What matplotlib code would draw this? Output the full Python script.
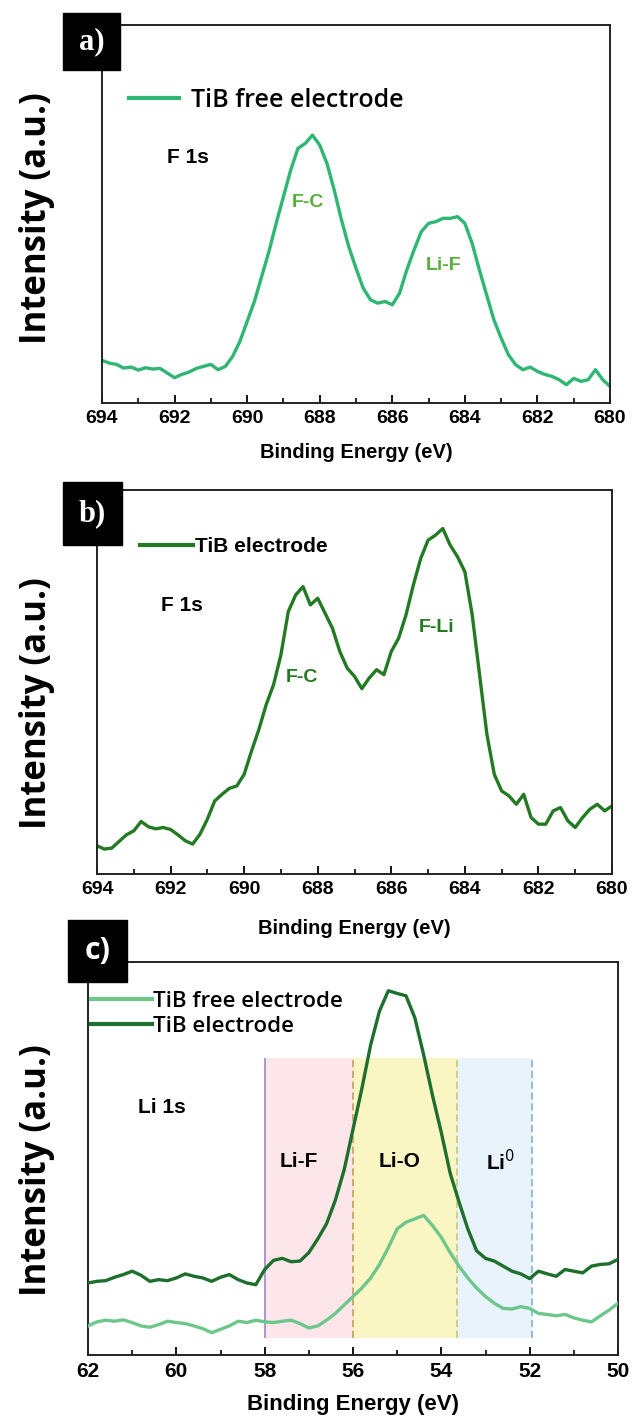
import numpy as np
import matplotlib
matplotlib.use("Agg")
import matplotlib.pyplot as plt
from matplotlib.patches import Rectangle
from matplotlib.ticker import MultipleLocator

# ---------------- data ----------------
# F 1s spectra, binding energy 694 -> 680 eV in 0.2 eV steps
f1s_energy = [694.0 - 0.2 * i for i in range(71)]

f1s_tib_free = [
    12.8, 12.0, 11.6, 10.5, 10.8, 9.9, 10.6, 10.2, 10.4, 9.0,
    7.6, 8.6, 9.3, 10.4, 11.0, 11.6, 10.0, 11.0, 14.0, 18.5,
    24.5, 30.5, 38.0, 45.5, 54.0, 62.0, 70.0, 76.5, 78.0, 80.5,
    77.5, 72.0, 64.0, 55.0, 47.0, 40.5, 34.5, 31.0, 30.0, 30.5,
    29.5, 33.0, 40.0, 46.0, 51.5, 54.0, 54.5, 55.5, 55.5, 56.0,
    54.0, 48.0, 40.0, 32.5, 25.0, 19.5, 14.5, 11.5, 10.0, 10.8,
    9.5, 8.6, 8.0, 7.0, 5.5, 7.4, 6.5, 7.0, 10.0, 7.0,
    5.0,
]

f1s_tib = [
    8.5, 7.5, 7.8, 9.8, 11.8, 13.0, 15.8, 14.2, 13.6, 14.0,
    13.4, 11.8, 10.0, 9.0, 12.0, 16.5, 22.0, 24.0, 25.8, 26.5,
    30.0, 37.0, 43.5, 51.0, 57.0, 66.0, 79.0, 84.0, 86.5, 81.0,
    83.0, 78.5, 74.0, 67.0, 62.0, 59.5, 55.8, 59.0, 61.5, 60.0,
    67.0, 71.0, 78.0, 87.0, 95.0, 100.5, 102.0, 104.0, 99.0, 95.5,
    91.0, 78.0, 60.0, 42.0, 30.0, 25.0, 23.5, 21.0, 24.0, 17.0,
    15.0, 15.0, 19.0, 20.0, 16.0, 14.0, 17.0, 19.5, 21.0, 19.0,
    20.5,
]

# Li 1s spectra, binding energy 62 -> 50 eV in 0.2 eV steps
li1s_energy = [62.0 - 0.2 * i for i in range(61)]

li1s_tib_free = [
    8.6, 9.8, 10.3, 10.0, 10.4, 9.6, 8.6, 8.2, 9.0, 10.0,
    9.6, 9.3, 8.6, 7.8, 6.6, 7.6, 8.6, 10.0, 9.6, 10.3,
    9.8, 9.6, 10.0, 10.3, 9.3, 8.0, 8.6, 10.3, 12.3, 14.8,
    17.3, 19.8, 22.8, 26.8, 31.8, 37.3, 39.3, 40.3, 41.3, 38.3,
    34.8, 30.3, 26.3, 22.8, 19.8, 17.3, 15.3, 13.8, 13.6, 14.3,
    13.8, 12.3, 12.0, 11.6, 12.0, 11.0, 10.3, 9.8, 11.6, 13.3,
    15.3,
]

li1s_tib = [
    21.3, 21.8, 22.0, 23.0, 23.8, 24.8, 23.6, 21.8, 22.3, 22.0,
    22.8, 24.0, 23.3, 22.8, 21.8, 23.0, 23.8, 22.3, 21.3, 20.8,
    25.3, 28.0, 28.6, 27.6, 27.8, 30.3, 34.3, 38.8, 45.8, 54.8,
    66.8, 78.8, 91.8, 101.8, 107.8, 107.0, 106.3, 99.8, 88.8, 76.8,
    65.8, 53.8, 45.3, 37.3, 30.8, 28.6, 27.8, 26.3, 24.8, 24.0,
    22.6, 24.8, 24.0, 23.3, 25.3, 24.8, 24.3, 26.3, 26.8, 27.0,
    28.3,
]

# Li 1s component regions (eV): Li-F, Li-O, Li0
li_regions = [(58.0, 56.0), (56.0, 53.65), (53.65, 51.95)]
li_region_labels = ["Li-F", "Li-O", "Li$^{0}$"]

# ---------------- styling ----------------
W, H = 633, 1428
fig = plt.figure(figsize=(W / 100, H / 100), dpi=100)

C_FREE_A = "#2fb574"
C_TIB_B = "#237a23"
C_TIB_C = "#1e6e2e"
C_FREE_C = "#6ec78a"
PEAK_A = "#58b03c"
SANS = "Liberation Sans"


def ax_rect(left, top, right, bottom):
    return [left / W, 1 - bottom / H, (right - left) / W, (bottom - top) / H]


def style_axes(ax, xmin, xmax, ticksize):
    ax.set_xlim(xmin, xmax)
    ax.xaxis.set_major_locator(MultipleLocator(2))
    ax.xaxis.set_minor_locator(MultipleLocator(1))
    ax.tick_params(axis="x", which="major", direction="in", length=6, width=1.3,
                   labelsize=ticksize, pad=5, top=False)
    ax.tick_params(axis="x", which="minor", direction="in", length=3.5, width=1.2, top=False)
    ax.set_yticks([])
    for lbl in ax.get_xticklabels():
        lbl.set_fontfamily(SANS)
        lbl.set_fontweight("bold")
    for s in ax.spines.values():
        s.set_linewidth(1.4)
        s.set_color("#222222")


def xlabel(ax, size, yfrac):
    ax.set_xlabel("Binding Energy (eV)", fontsize=size, fontweight="bold", family=SANS)
    ax.xaxis.label.set_verticalalignment("center")
    ax.xaxis.set_label_coords(0.5, yfrac)


def panel_tag(left, top, right, bottom, text, family):
    fig.add_artist(Rectangle((left / W, 1 - bottom / H), (right - left) / W, (bottom - top) / H,
                             transform=fig.transFigure, facecolor="black", edgecolor="black",
                             zorder=5))
    fig.text((left + right) / 2 / W, 1 - (top + bottom) / 2 / H, text, color="white",
             fontsize=22, fontweight="bold", family=family, ha="center", va="center",
             zorder=6)


def ylabel(ycenter):
    fig.text(37 / W, 1 - ycenter / H, "Intensity (a.u.)", rotation=90, ha="center",
             va="center", fontsize=25, fontweight="bold", family="Open Sans")


# ---------------- panel a ----------------
ax1 = fig.add_axes(ax_rect(102, 25, 610, 403))
ax1.plot(f1s_energy, f1s_tib_free, color=C_FREE_A, lw=2.4, label="TiB free electrode")
ax1.set_ylim(0, 113.6)
style_axes(ax1, 694, 680, 14)
xlabel(ax1, 14.5, -0.13)
leg = ax1.legend(loc="center left", bbox_to_anchor=(0.053, 0.80), frameon=False,
                 borderpad=0, borderaxespad=0, handlelength=2.0, handletextpad=0.5,
                 prop=dict(family="Open Sans", weight="semibold", size=18))
for h in leg.get_lines():
    h.set_linewidth(3)
ax1.text(692.2, 73.8, "F 1s", fontsize=15, fontweight="bold", family=SANS,
         va="center", ha="left")
ax1.text(688.33, 60.3, "F-C", fontsize=14, fontweight="bold", family=SANS,
         color=PEAK_A, ha="center", va="center")
ax1.text(684.6, 41.3, "Li-F", fontsize=14, fontweight="bold", family=SANS,
         color=PEAK_A, ha="center", va="center")
panel_tag(63, 13, 120, 70, "a)", "Liberation Serif")
ylabel(218)

# ---------------- panel b ----------------
ax2 = fig.add_axes(ax_rect(97, 490, 612, 874))
ax2.plot(f1s_energy, f1s_tib, color=C_TIB_B, lw=2.4, label="TiB electrode")
ax2.set_ylim(0, 115.6)
style_axes(ax2, 694, 680, 14)
xlabel(ax2, 14.5, -0.141)
leg = ax2.legend(loc="center left", bbox_to_anchor=(0.0835, 0.852), frameon=False,
                 borderpad=0, borderaxespad=0, handlelength=2.55, handletextpad=0.1,
                 prop=dict(family=SANS, weight="bold", size=15))
for h in leg.get_lines():
    h.set_linewidth(3)
ax2.text(692.27, 80.8, "F 1s", fontsize=15, fontweight="bold", family=SANS,
         va="center", ha="left")
ax2.text(688.44, 59.3, "F-C", fontsize=14, fontweight="bold", family=SANS,
         color=C_TIB_B, ha="center", va="center")
ax2.text(684.77, 74.3, "F-Li", fontsize=14, fontweight="bold", family=SANS,
         color=C_TIB_B, ha="center", va="center")
panel_tag(63, 482, 122, 545, "b)", "Liberation Serif")
ylabel(703)

# ---------------- panel c ----------------
ax3 = fig.add_axes(ax_rect(88, 962, 618, 1355))
ax3.set_ylim(0, 116.3)
band_colors = ["#fce6ea", "#faf6c4", "#e9f3fb"]
edge_colors = ["#a58fc8", "#c9a46c", "#c6cf7c", "#8db8d8"]
band_bottom, band_top = 5.0, 87.8
for (hi, lo), fc in zip(li_regions, band_colors):
    ax3.fill_between([hi, lo], band_bottom, band_top, color=fc, lw=0, zorder=0)
edges = [li_regions[0][0], li_regions[1][0], li_regions[2][0], li_regions[2][1]]
for i, (xe, ec) in enumerate(zip(edges, edge_colors)):
    ax3.vlines(xe, band_bottom, band_top, colors=ec, lw=1.3,
               linestyles="solid" if i == 0 else (0, (4, 2)), zorder=1)
ax3.plot(li1s_energy, li1s_tib_free, color=C_FREE_C, lw=2.4, label="TiB free electrode", zorder=3)
ax3.plot(li1s_energy, li1s_tib, color=C_TIB_C, lw=2.4, label="TiB electrode", zorder=3)
style_axes(ax3, 62, 50, 15)
xlabel(ax3, 16, -0.127)
leg = ax3.legend(loc="center left", bbox_to_anchor=(0.006, 0.868), frameon=False,
                 borderpad=0, borderaxespad=0, handlelength=2.75, handletextpad=0.05,
                 labelspacing=0.2,
                 prop=dict(family="Open Sans", weight="semibold", size=16))
for h in leg.get_lines():
    h.set_linewidth(3)
ax3.text(60.33, 73.3, "Li 1s", fontsize=15, fontweight="bold", family=SANS,
         ha="center", va="center")
label_x = [57.22, 54.94, 52.65]
for xl, txt in zip(label_x, li_region_labels):
    ax3.text(xl, 57.3, txt, fontsize=15, fontweight="bold", family=SANS,
             ha="center", va="center", zorder=4)
panel_tag(68, 920, 127, 982, "c)", "Open Sans")
ylabel(1170)

fig.savefig("out.png", dpi=100)
